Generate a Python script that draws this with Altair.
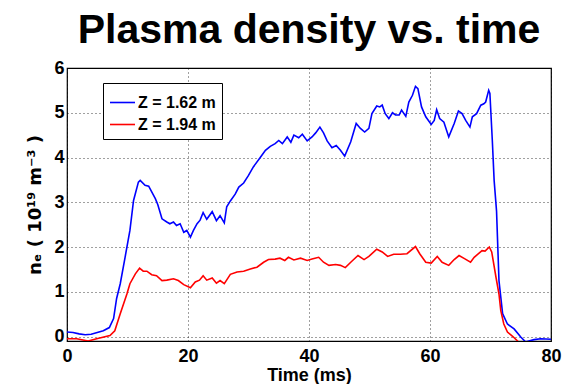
import altair as alt
import pandas as pd

# Electron density traces at two axial positions
t_upper = [0, 1, 2, 3, 4, 5, 6, 7, 7.7, 8.2, 8.8, 9.6, 10.4, 11.0, 11.8, 12.1, 12.9, 13.5,
           14.6, 15.0, 15.7, 16.5, 17.0, 17.6, 18.1, 18.7, 19.3, 19.8, 20.4, 20.9, 21.5,
           22.0, 22.5, 23.1, 24.0, 24.7, 25.3, 26.0, 26.4, 27.0, 27.8, 28.4, 29.2, 30.0,
           30.8, 32.0, 32.8, 33.6, 34.4, 35.0, 35.6, 36.4, 37.0, 37.5, 38.3, 38.9, 39.7,
           40.5, 41.1, 41.8, 42.4, 43.0, 43.8, 44.5, 45.2, 45.9, 46.9, 47.8, 48.5, 49.2,
           49.9, 50.4, 51.2, 51.7, 52.1, 52.6, 53.2, 53.8, 54.3, 54.9, 55.3, 56.0, 56.5,
           57.1, 57.6, 58.0, 58.6, 59.3, 60.2, 60.7, 61.1, 61.6, 62.3, 63.1, 64.0, 64.7,
           65.3, 65.9, 66.6, 67.0, 67.7, 68.4, 68.9, 69.2, 69.7, 69.9, 70.3, 70.6, 71.0,
           71.4, 72.0, 72.8, 73.9, 75.0, 75.8, 77.2, 78.3, 80]
ne_upper = [0.10, 0.09, 0.06, 0.04, 0.05, 0.09, 0.13, 0.20, 0.40, 0.85, 1.18, 1.77, 2.37,
            3.04, 3.45, 3.49, 3.38, 3.36, 3.08, 2.95, 2.63, 2.56, 2.52, 2.56, 2.48, 2.52,
            2.33, 2.37, 2.22, 2.37, 2.52, 2.60, 2.77, 2.62, 2.79, 2.59, 2.70, 2.54, 2.90,
            3.03, 3.18, 3.34, 3.43, 3.60, 3.79, 4.01, 4.16, 4.25, 4.31, 4.38, 4.31, 4.46,
            4.34, 4.50, 4.44, 4.52, 4.37, 4.46, 4.55, 4.68, 4.55, 4.37, 4.22, 4.27, 4.16,
            4.03, 4.35, 4.76, 4.65, 4.57, 4.65, 4.98, 5.15, 5.13, 5.17, 4.98, 4.87, 5.00,
            4.95, 4.95, 5.06, 4.92, 5.24, 5.39, 5.59, 5.54, 5.13, 4.91, 4.74, 4.83, 5.07,
            4.87, 4.79, 4.46, 4.76, 5.04, 4.98, 4.83, 4.68, 4.91, 4.98, 5.17, 5.20, 5.24,
            5.50, 5.43, 4.38, 3.49, 2.80, 1.25, 0.51, 0.28, 0.17, -0.01, -0.12, -0.07,
            -0.05, -0.06]

t_lower = [0, 1.6, 3.5, 4.9, 7.1, 7.9, 8.8, 9.9, 10.4, 11.3, 12.0, 12.6, 13.2, 14.0, 14.8,
           15.7, 16.5, 17.6, 18.4, 19.3, 20.4, 21.2, 21.9, 22.5, 23.1, 24.0, 24.7, 25.3,
           26.0, 27.0, 28.1, 29.2, 30.3, 31.4, 32.5, 33.3, 34.4, 35.2, 36.0, 36.6, 37.5,
           38.6, 39.7, 40.5, 41.6, 42.4, 43.3, 44.4, 45.2, 46.0, 46.9, 48.1, 49.1, 49.9,
           51.2, 52.1, 53.0, 54.0, 55.1, 56.2, 57.6, 58.3, 59.3, 60.2, 61.2, 62.0, 63.1,
           64.0, 64.8, 65.7, 66.7, 67.3, 68.6, 69.1, 69.8, 70.2, 70.9, 71.4, 71.7, 72.2,
           72.8, 73.7, 74.7, 75.5]
ne_lower = [-0.05, -0.05, -0.10, -0.05, 0.02, 0.13, 0.51, 0.95, 1.18, 1.40, 1.53, 1.46,
            1.46, 1.38, 1.36, 1.25, 1.26, 1.29, 1.25, 1.16, 1.09, 1.22, 1.26, 1.36, 1.26,
            1.31, 1.19, 1.25, 1.18, 1.39, 1.44, 1.46, 1.51, 1.55, 1.66, 1.72, 1.73, 1.75,
            1.70, 1.77, 1.71, 1.75, 1.70, 1.73, 1.77, 1.66, 1.59, 1.61, 1.59, 1.54, 1.66,
            1.81, 1.72, 1.79, 1.95, 1.89, 1.79, 1.84, 1.84, 1.85, 2.01, 1.85, 1.66, 1.64,
            1.79, 1.66, 1.59, 1.72, 1.81, 1.74, 1.66, 1.77, 1.92, 1.91, 2.00, 1.89, 1.33,
            0.95, 0.58, 0.28, 0.10, 0.00, -0.13, -0.25]

series_names = ["Z = 1.62 m", "Z = 1.94 m"]
series_colors = ["#0000ff", "#ff0000"]

df = pd.concat([
    pd.DataFrame({"t": t_upper, "ne": ne_upper, "probe": series_names[0], "order": 0}),
    pd.DataFrame({"t": t_lower, "ne": ne_lower, "probe": series_names[1], "order": 1}),
])

FONT = "Liberation Sans"

axis_style = dict(
    labelFont=FONT, labelFontWeight="bold", labelFontSize=18, labelColor="black",
    titleFontWeight="bold", titleColor="black",
    ticks=False, domain=False, labelFlush=False,
    grid=True, gridColor="black", gridDash=[1, 3], gridOpacity=0.75, gridWidth=1,
)

chart = alt.Chart(df).mark_line(strokeWidth=1.6, clip=True).encode(
    x=alt.X("t:Q",
            scale=alt.Scale(domain=[0, 80], nice=False, zero=False),
            axis=alt.Axis(values=[0, 20, 40, 60, 80], title="Time (ms)",
                          titleFont=FONT, titleFontSize=18,
                          titlePadding=1, labelPadding=6, **axis_style)),
    y=alt.Y("ne:Q",
            scale=alt.Scale(domain=[-0.1, 6], nice=False, zero=False),
            axis=alt.Axis(values=[0, 1, 2, 3, 4, 5, 6], title="nₑ ( 10¹⁹ m⁻³ )",
                          titleFont="DejaVu Sans", titleFontSize=18,
                          titlePadding=9, labelPadding=3, **axis_style)),
    color=alt.Color("probe:N",
                    scale=alt.Scale(domain=series_names, range=series_colors),
                    legend=alt.Legend(title=None, orient="none", legendX=36, legendY=15,
                                      strokeColor="black", fillColor="white", padding=6,
                                      symbolType="stroke", symbolSize=625,
                                      symbolStrokeWidth=1.6, rowPadding=0,
                                      labelFont=FONT, labelFontWeight="bold",
                                      labelFontSize=16, labelColor="black",
                                      labelOffset=2)),
    order="order:Q",
    detail="probe:N",
).properties(
    width=484,
    height=273,
    background="white",
    title=alt.TitleParams("Plasma density vs. time", font=FONT, fontSize=41,
                          fontWeight="bold", color="black", anchor="middle", offset=7),
    autosize=alt.AutoSizeParams(type="none"),
    padding={"left": 67, "top": 68, "right": 11, "bottom": 43},
).configure_view(
    stroke="black", strokeWidth=1.2
)

chart.save("out.html", embed_options={"renderer": "svg", "actions": False})
